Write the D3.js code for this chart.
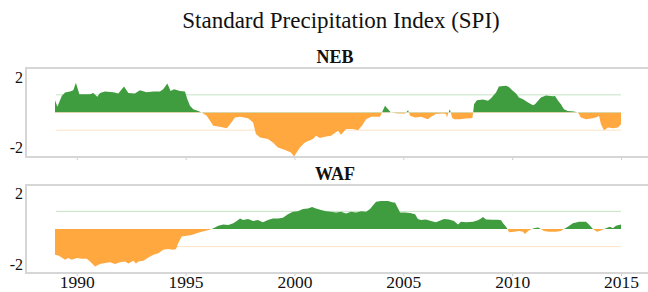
<!DOCTYPE html>
<html><head><meta charset="utf-8">
<script src="https://cdn.jsdelivr.net/npm/d3@7"></script>
<style>
html,body{margin:0;padding:0;background:#fff;}
svg{display:block;}
text{font-family:"Liberation Serif","Times New Roman",serif;fill:#111;}
</style></head>
<body><svg id="c" width="648" height="292"></svg>
<script>
const title = "Standard Precipitation Index (SPI)";
const panelNames = ["NEB", "WAF"];
const xTickYears = [1990, 1995, 2000, 2005, 2010, 2015];
const yTickValues = [-2, 2];
const thresholds = [1, -1];

const nebYears = [1989.00,1989.11,1989.31,1989.46,1989.69,1989.84,1989.96,1990.12,1990.30,1990.61,1990.76,1990.94,1991.07,1991.30,1991.68,1991.91,1992.17,1992.37,1992.67,1992.90,1993.21,1993.52,1993.82,1993.97,1994.16,1994.31,1994.47,1994.74,1994.97,1995.08,1995.20,1995.35,1995.58,1995.74,1995.97,1996.12,1996.27,1996.50,1996.73,1996.89,1997.04,1997.27,1997.50,1997.87,1998.10,1998.23,1998.42,1998.78,1999.01,1999.24,1999.57,1999.84,1999.98,2000.07,2000.25,2000.48,2000.85,2000.99,2001.17,2001.40,2001.68,2002.00,2002.14,2002.37,2002.69,2002.92,2003.10,2003.29,2003.52,2003.93,2004.02,2004.16,2004.25,2004.43,2004.76,2005.08,2005.22,2005.31,2005.54,2005.81,2006.13,2006.27,2006.50,2006.82,2006.96,2007.01,2007.05,2007.14,2007.24,2007.33,2007.56,2007.88,2008.11,2008.18,2008.25,2008.38,2008.66,2008.89,2009.03,2009.26,2009.39,2009.72,2009.85,2010.04,2010.18,2010.31,2010.50,2010.73,2010.96,2011.05,2011.19,2011.32,2011.55,2011.88,2011.97,2012.11,2012.24,2012.38,2012.56,2012.84,2013.02,2013.16,2013.39,2013.71,2013.94,2013.99,2014.08,2014.22,2014.40,2014.63,2014.86,2015.00];
const nebSPI = [0.70,0.32,0.94,1.13,1.19,1.26,1.69,1.04,1.04,1.04,1.11,0.89,1.11,1.19,1.15,1.07,1.47,1.11,1.07,1.26,1.15,1.19,1.19,1.32,1.64,1.22,1.32,1.22,1.19,0.75,0.38,0.19,0.09,0.00,-0.19,-0.47,-0.75,-0.79,-0.85,-0.89,-0.66,-0.28,-0.24,-0.32,-0.56,-1.22,-1.41,-1.50,-1.70,-1.98,-2.13,-2.26,-2.50,-2.32,-1.98,-1.70,-1.50,-1.32,-1.45,-1.38,-1.32,-1.04,-1.26,-0.94,-0.94,-1.00,-0.75,-0.38,-0.24,-0.24,0.00,0.38,0.25,0.00,-0.06,-0.06,0.13,-0.19,-0.28,-0.24,-0.38,-0.24,-0.09,-0.06,-0.09,-0.28,-0.09,0.19,-0.28,-0.38,-0.38,-0.34,-0.32,-0.30,0.47,0.70,0.73,0.66,0.81,1.13,1.47,1.51,1.45,1.22,1.07,0.85,0.75,0.56,0.41,0.47,0.66,0.85,0.96,0.92,0.94,0.66,0.47,0.19,0.09,0.06,0.00,-0.28,-0.38,-0.32,-0.24,-0.19,-0.66,-1.00,-0.85,-0.89,-0.85,-0.66];

const wafYears = [1989.00,1989.15,1989.31,1989.46,1989.61,1989.77,1990.00,1990.23,1990.46,1990.61,1990.76,1990.84,1991.07,1991.30,1991.53,1991.76,1991.99,1992.22,1992.37,1992.60,1992.72,1992.83,1993.06,1993.29,1993.52,1993.75,1993.97,1994.20,1994.43,1994.56,1994.66,1994.82,1995.05,1995.28,1995.51,1995.74,1995.97,1996.20,1996.35,1996.50,1996.73,1996.96,1997.19,1997.35,1997.50,1997.64,1997.87,1998.10,1998.32,1998.55,1998.78,1999.01,1999.24,1999.47,1999.70,1999.93,2000.16,2000.39,2000.62,2000.81,2000.99,2001.22,2001.45,2001.68,2001.91,2002.14,2002.37,2002.60,2002.83,2003.06,2003.29,2003.47,2003.61,2003.75,2003.97,2004.30,2004.53,2004.62,2004.76,2004.85,2005.08,2005.31,2005.54,2005.67,2005.81,2006.04,2006.27,2006.50,2006.64,2006.87,2007.10,2007.33,2007.51,2007.65,2007.88,2008.20,2008.43,2008.57,2008.66,2008.80,2009.12,2009.35,2009.49,2009.58,2009.72,2009.81,2009.85,2010.08,2010.31,2010.50,2010.59,2010.73,2010.87,2011.00,2011.19,2011.32,2011.46,2011.69,2012.01,2012.24,2012.38,2012.56,2012.79,2013.07,2013.39,2013.53,2013.71,2013.90,2014.08,2014.22,2014.40,2014.49,2014.63,2014.77,2015.00];
const wafSPI = [-1.46,-1.50,-1.61,-1.74,-1.65,-1.74,-1.65,-1.69,-1.69,-1.84,-2.03,-2.12,-1.99,-1.93,-1.88,-1.99,-1.88,-1.84,-1.95,-1.80,-1.95,-1.84,-1.80,-1.61,-1.46,-1.37,-1.18,-1.13,-1.18,-1.14,-0.81,-0.43,-0.38,-0.34,-0.24,-0.15,-0.08,0.00,0.08,0.19,0.26,0.23,0.32,0.45,0.60,0.51,0.56,0.45,0.51,0.38,0.51,0.60,0.60,0.64,0.83,0.98,1.01,1.13,1.16,1.24,1.16,1.07,1.01,0.98,0.94,0.98,0.88,0.98,0.94,1.01,0.98,1.13,1.35,1.54,1.59,1.58,1.50,1.50,1.16,0.94,0.94,0.90,0.83,0.56,0.51,0.54,0.45,0.38,0.45,0.56,0.54,0.45,0.26,0.41,0.38,0.41,0.49,0.60,0.68,0.54,0.53,0.53,0.49,0.32,0.13,-0.06,-0.19,-0.15,-0.11,-0.15,-0.28,-0.11,-0.02,0.04,0.08,0.00,-0.11,-0.15,-0.15,-0.11,0.00,0.13,0.32,0.41,0.41,0.26,0.00,-0.15,-0.08,0.00,0.08,0.13,0.04,0.19,0.26];

const series = [
  {name: panelNames[0], years: nebYears, values: nebSPI, top: 68, bottom: 157},
  {name: panelNames[1], years: wafYears, values: wafSPI, top: 185, bottom: 273}
];

const GREEN = "#3f9c3f", ORANGE = "#ffa840";
const SERIF = "'Liberation Serif','Times New Roman',serif";
const svg = d3.select("#c");
const x = d3.scaleLinear().domain([1989, 2015]).range([55, 621]);

svg.append("text").attr("x", 341).attr("y", 28).attr("text-anchor", "middle")
  .attr("font-family", SERIF).style("font-size", "23px").text(title);

series.forEach((s, i) => {
  const mid = (s.top + s.bottom) / 2;
  const y = d3.scaleLinear().domain([-2.55, 2.55]).range([mid + 45, mid - 45]);
  const g = svg.append("g");
  g.append("rect").attr("x", 26).attr("y", s.top).attr("width", 640).attr("height", s.bottom - s.top)
    .attr("fill", "none").attr("stroke", "#d6d6d6").attr("stroke-width", 2);
  const xa = g.append("g").attr("transform", `translate(0,${s.bottom + 1})`)
    .call(d3.axisBottom(x).tickValues(xTickYears).tickSize(2).tickFormat(i === 1 ? (d => String(d)) : () => ""));
  xa.attr("font-family", SERIF);
  xa.select(".domain").remove();
  xa.selectAll(".tick line").attr("stroke", "#cfcfcf");
  xa.selectAll("text").attr("dy", null).attr("y", 14).style("font-size", "17.5px")
    .style("font-family", SERIF).attr("fill", "#111");
  const ya = g.append("g").attr("transform", "translate(23,0)")
    .call(d3.axisLeft(y).tickValues(yTickValues).tickSize(0).tickPadding(0).tickFormat(d => String(d)));
  ya.attr("font-family", SERIF);
  ya.select(".domain").remove();
  ya.selectAll("text").style("font-size", "16px").style("font-family", SERIF).attr("fill", "#111");
  g.append("text").attr("x", 335).attr("y", s.top - 5).attr("text-anchor", "middle")
    .attr("font-family", SERIF).style("font-size", "18px").style("font-weight", "bold").text(s.name);
  g.selectAll(".thr").data(thresholds).join("line")
    .attr("x1", 56).attr("x2", x(2015)).attr("y1", d => y(d)).attr("y2", d => y(d))
    .attr("stroke", d => d > 0 ? "#c6e4c6" : "#ffe4c8").attr("stroke-width", 1);
  const data = s.years.map((yr, k) => ({t: yr, v: s.values[k]}));
  const area = d3.area().x(d => x(d.t)).y0(y(0)).y1(d => y(d.v));
  const idPos = "pos" + i, idNeg = "neg" + i;
  const defs = svg.append("defs");
  defs.append("clipPath").attr("id", idPos).append("rect")
    .attr("x", 0).attr("y", 0).attr("width", 648).attr("height", y(0));
  defs.append("clipPath").attr("id", idNeg).append("rect")
    .attr("x", 0).attr("y", y(0)).attr("width", 648).attr("height", 292 - y(0));
  g.append("path").datum(data).attr("d", area).attr("fill", GREEN).attr("clip-path", `url(#${idPos})`);
  g.append("path").datum(data).attr("d", area).attr("fill", ORANGE).attr("clip-path", `url(#${idNeg})`);
});
</script></body></html>
